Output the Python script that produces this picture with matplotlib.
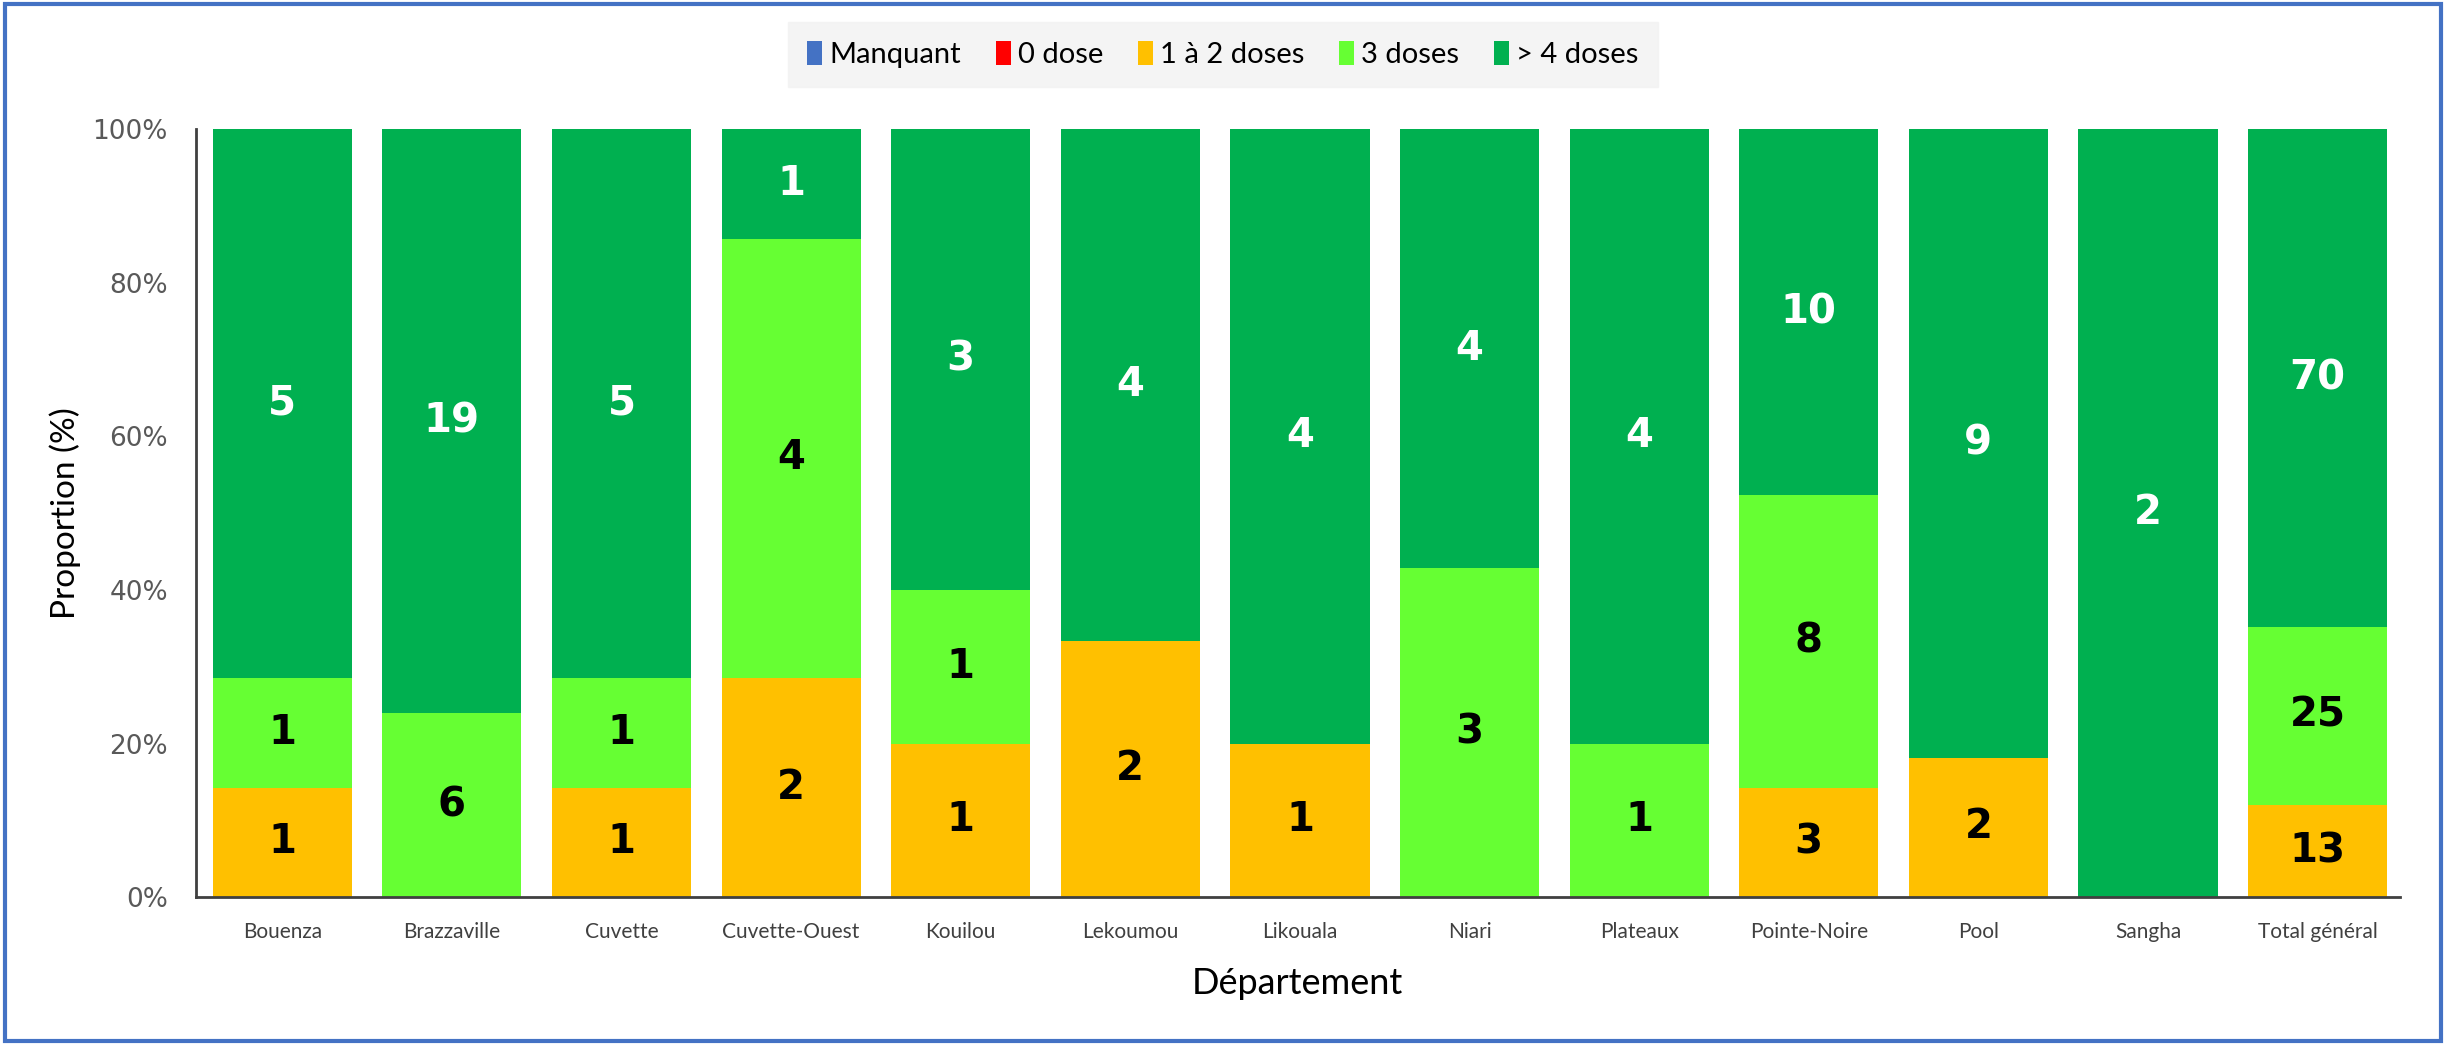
import matplotlib
matplotlib.use("Agg")
import matplotlib.pyplot as plt
import numpy as np
from matplotlib.patches import Rectangle

departements = ["Bouenza", "Brazzaville", "Cuvette", "Cuvette-Ouest", "Kouilou", "Lekoumou",
                "Likouala", "Niari", "Plateaux", "Pointe-Noire", "Pool", "Sangha", "Total général"]
series_names = ["Manquant", "0 dose", "1 à 2 doses", "3 doses", "> 4 doses"]
manquant = [0, 0, 0, 0, 0, 0, 0, 0, 0, 0, 0, 0, 0]
zero_dose = [0, 0, 0, 0, 0, 0, 0, 0, 0, 0, 0, 0, 0]
un_deux = [1, 0, 1, 2, 1, 2, 1, 0, 0, 3, 2, 0, 13]
trois = [1, 6, 1, 4, 1, 0, 0, 3, 1, 8, 0, 0, 25]
quatre_plus = [5, 19, 5, 1, 3, 4, 4, 4, 4, 10, 9, 2, 70]
y_ticks = [0, 20, 40, 60, 80, 100]

colors = ["#4472C4", "#FF0000", "#FFC000", "#66FF33", "#00B050"]
label_colors = ["black", "black", "black", "black", "white"]

narrow = ["Lato", "DejaVu Sans"]

fig = plt.figure(figsize=(24.46, 10.45), dpi=100)
ax = fig.add_axes([0.080, 0.1414, 0.901, 0.735])

data = np.array([manquant, zero_dose, un_deux, trois, quatre_plus], dtype=float)
totals = data.sum(axis=0)
pct = data / totals * 100
x = np.arange(len(departements))
bottom = np.zeros(len(departements))
handles = []
for i, name in enumerate(series_names):
    bars = ax.bar(x, pct[i], bottom=bottom, width=0.82, color=colors[i], label=name)
    handles.append(bars)
    for j in range(len(departements)):
        if data[i, j] > 0:
            ax.text(x[j], bottom[j] + pct[i, j] / 2, f"{int(data[i, j])}",
                    ha="center", va="center", fontsize=29, fontweight="heavy",
                    color=label_colors[i], family=["DejaVu Sans"])
    bottom += pct[i]

ax.set_xlim(-0.511, len(departements) - 1 + 0.483)
ax.set_ylim(0, 100)
ax.set_yticks(y_ticks)
ax.set_yticklabels([f"{v}%" for v in y_ticks], fontsize=19, color="#595959")
ax.set_xticks(x)
ax.set_xticklabels(departements, fontsize=15, family=narrow, color="#404040")
ax.tick_params(axis="y", length=0, pad=20)
ax.tick_params(axis="x", length=0, pad=18)
for s in ["top", "right"]:
    ax.spines[s].set_visible(False)
for s in ["left", "bottom"]:
    ax.spines[s].set_color("#404040")
    ax.spines[s].set_linewidth(2)
ax.set_ylabel("Proportion (%)", fontsize=24, family=narrow, labelpad=8)
ax.set_xlabel("Département", fontsize=26, family=narrow, labelpad=18)

leg = fig.legend(handles=handles, labels=series_names, loc="center", bbox_to_anchor=(0.5, 0.948),
                 ncol=5, frameon=True, prop={"family": narrow, "size": 21},
                 handlelength=0.5, handleheight=0.9, handletextpad=0.25, columnspacing=1.2,
                 borderpad=0.65, fancybox=False)
leg.get_frame().set_facecolor("#F2F2F2")
leg.get_frame().set_edgecolor("#F2F2F2")

fig.patches.append(Rectangle((0.002, 0.004), 0.996, 0.992, transform=fig.transFigure,
                             fill=False, edgecolor="#4472C4", linewidth=3))

fig.savefig("out.png", dpi=100)
